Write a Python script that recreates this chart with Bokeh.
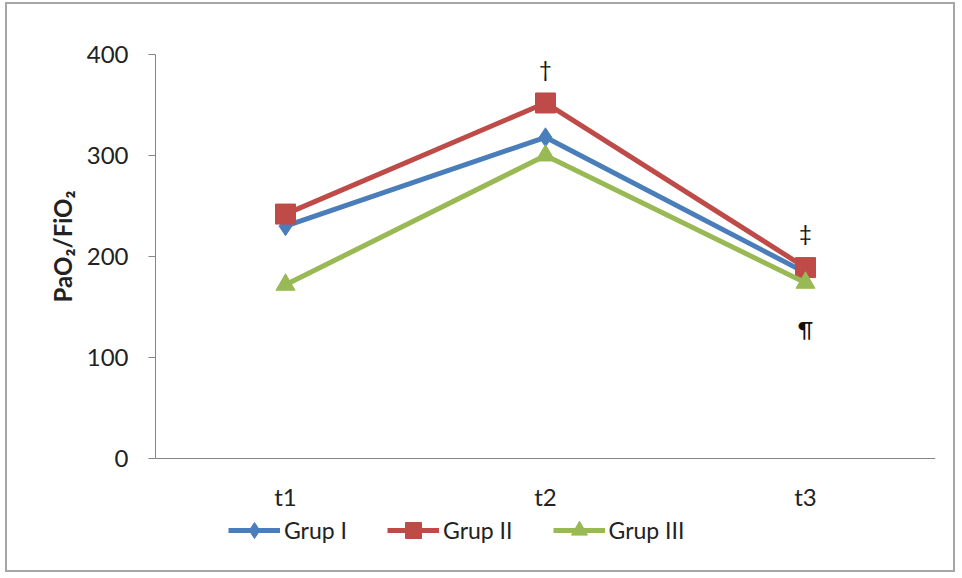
from bokeh.plotting import figure
from bokeh.models import Range1d, Legend, LegendItem, FixedTicker, Title
from bokeh.core.properties import value
from bokeh.embed import file_html
from bokeh.resources import INLINE

categories = ["t1", "t2", "t3"]
grup_1 = [230, 318, 184]
grup_2 = [242, 352, 189]
grup_3 = [172, 300, 174]
series_names = ["Grup I", "Grup II", "Grup III"]
annot_text = ["\u2020", "\u2021", "\u00b6"]
annot_cat = [1, 2, 2]
annot_val = [386, 224, 129]
y_title = "PaO\u2082/FiO\u2082"

FONT = "Lato"
xs = [i + 0.5 for i in range(len(categories))]

p = figure(width=946, height=566, output_backend="svg", toolbar_location=None,
           x_range=Range1d(0, len(categories)), y_range=Range1d(-101, 400),
           frame_width=780, frame_height=506,
           min_border_left=148, min_border_right=18, min_border_top=50, min_border_bottom=10)
p.styles = {"border": "2px solid #a6a6a6", "margin-left": "5px", "margin-top": "2px"}
p.outline_line_color = None
p.xgrid.visible = False
p.ygrid.visible = False

p.yaxis.ticker = FixedTicker(ticks=[0, 100, 200, 300, 400])
p.yaxis.bounds = (0, 400)
p.yaxis.minor_tick_line_color = None
p.yaxis.major_tick_out = 7
p.yaxis.major_tick_in = 0
p.yaxis.axis_line_color = "#868686"
p.yaxis.major_tick_line_color = "#868686"
p.yaxis.major_label_text_font = FONT
p.yaxis.major_label_text_font_size = "24px"
p.yaxis.major_label_text_color = "#222222"
p.yaxis.major_label_standoff = 20

p.add_layout(Title(text=y_title, align="right", offset=136, text_font=FONT,
                   text_font_size="24px", text_font_style="bold", text_color="#222222",
                   standoff=14), "left")

p.xaxis.fixed_location = 0
p.xaxis.ticker = FixedTicker(ticks=xs)
p.xaxis.major_label_overrides = {x: c for x, c in zip(xs, categories)}
p.xaxis.minor_tick_line_color = None
p.xaxis.major_tick_line_color = None
p.xaxis.major_tick_out = 0
p.xaxis.major_tick_in = 0
p.xaxis.axis_line_color = "#868686"
p.xaxis.major_label_text_font = FONT
p.xaxis.major_label_text_font_size = "24px"
p.xaxis.major_label_text_color = "#222222"
p.xaxis.major_label_standoff = 24

colors = ["#4A7EBB", "#BE4B48", "#98B954"]
markers = ["diamond", "square", "triangle"]
sizes = [19, 20, 19]
items = []
for vals, name, col, mk, sz in zip([grup_1, grup_2, grup_3], series_names, colors, markers, sizes):
    l = p.line(xs, vals, line_color=col, line_width=5)
    s = p.scatter(xs, vals, marker=mk, size=sz, fill_color=col, line_color=col)
    items.append(LegendItem(label=name, renderers=[l, s]))

for t, c, v in zip(annot_text, annot_cat, annot_val):
    p.text([c + 0.5], [v], text=[t], text_font=value(FONT), text_font_size="22px",
           text_align="center", text_baseline="middle", text_color="#111111")

legend = Legend(items=items, orientation="horizontal", location=(73, 10),
                label_text_font=FONT, label_text_font_size="23px", label_text_color="#222222",
                glyph_width=52, glyph_height=40, spacing=40, border_line_color=None,
                background_fill_alpha=0, margin=0, padding=0, label_standoff=4)
p.add_layout(legend, "center")

open("out.html", "w").write(file_html(p, INLINE))
